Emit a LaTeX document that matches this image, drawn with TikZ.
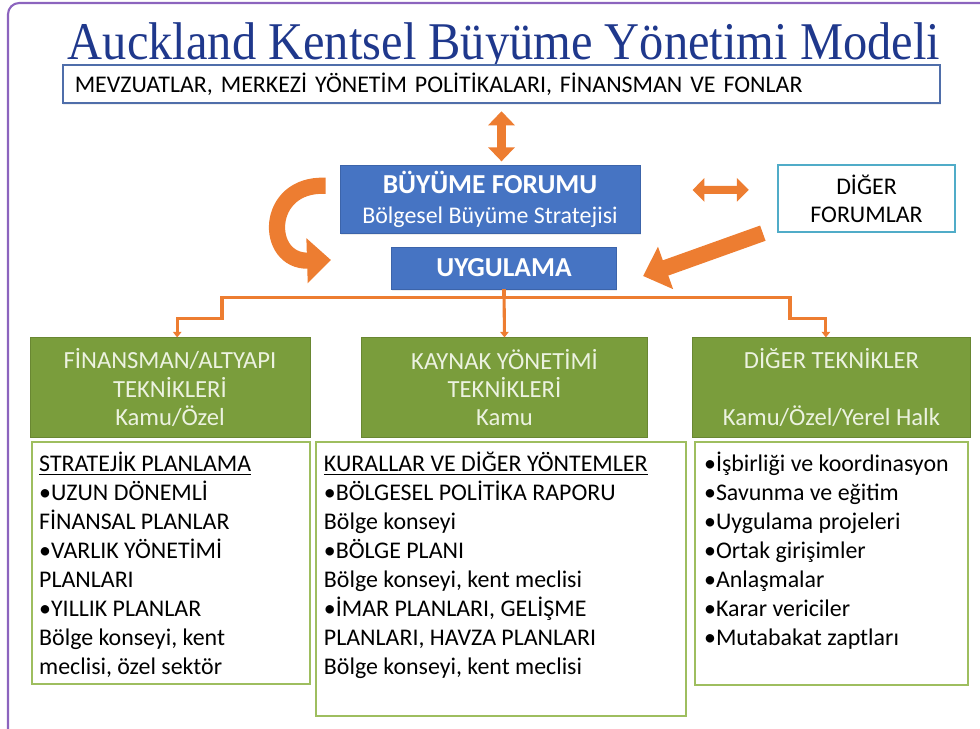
\documentclass[tikz,border=0pt]{standalone}
\usepackage{graphicx}
\usepackage{fontspec}
\setmainfont{Carlito}
\newfontfamily\titlefont{Liberation Serif}
\usetikzlibrary{arrows.meta,positioning,shadows}

\definecolor{titleblue}{RGB}{31,56,140}
\definecolor{frameviolet}{RGB}{140,100,190}
\definecolor{lawline}{RGB}{79,110,170}
\definecolor{forumblue}{RGB}{70,116,195}
\definecolor{forumline}{RGB}{60,100,170}
\definecolor{otherline}{RGB}{80,172,200}
\definecolor{techgreen}{RGB}{122,157,60}
\definecolor{techline}{RGB}{105,135,50}
\definecolor{techtext}{RGB}{236,242,224}
\definecolor{listline}{RGB}{158,190,95}
\definecolor{arroworange}{RGB}{237,125,49}

\tikzstyle{lawbox} = [rectangle, draw=lawline, line width=1.5pt, fill=white, minimum width=21.93cm, minimum height=0.95cm, inner xsep=0.3cm, text width=21.33cm, align=left, font=\fontsize{17}{20}\selectfont, drop shadow={opacity=0.12, shadow xshift=0.5pt, shadow yshift=-1.5pt}]
\tikzstyle{bluebox} = [rectangle, fill=forumblue, draw=forumline, line width=0.6pt, text=white, align=center, font=\fontsize{17}{21.3}\selectfont, drop shadow={opacity=0.15, shadow xshift=0.5pt, shadow yshift=-1.5pt}]
\tikzstyle{forumbox} = [rectangle, draw=otherline, line width=1.5pt, fill=white, align=center, minimum width=4.43cm, minimum height=1.68cm, font=\fontsize{17}{20}\selectfont]
\tikzstyle{techbox} = [rectangle, fill=techgreen, draw=techline, line width=0.6pt, text=techtext, align=center, minimum height=2.48cm, font=\fontsize{17.5}{20}\selectfont]
\tikzstyle{listbox} = [rectangle, draw=listline, line width=1.5pt, fill=white]
\tikzstyle{listtext} = [inner sep=0pt, align=left, font=\fontsize{17}{20.6}\selectfont]
\tikzstyle{updown} = [draw=arroworange, line width=7pt, {Triangle[width=18.5pt,length=10pt]}-{Triangle[width=18.5pt,length=10pt]}]
\tikzstyle{sideways} = [draw=arroworange, line width=5.7pt, {Triangle[width=16.4pt,length=8.5pt]}-{Triangle[width=16.4pt,length=8.5pt]}]
\tikzstyle{bigarrow} = [draw=arroworange, line width=11.5pt, -{Triangle[width=31pt,length=17pt]}]
\tikzstyle{feed} = [draw=arroworange, line width=2.2pt, -{Triangle[width=6pt,length=4pt]}]

\begin{document}
\begin{tikzpicture}[x=0.025cm, y=-0.025cm, node distance=1cm and 2cm]
    \useasboundingbox (0,0) rectangle (980,729);
    \draw[frameviolet, line width=1.5pt, rounded corners=8pt] (8,729) -- (8,3) -- (980,3);

    % top
    \node[inner sep=0pt, anchor=base, text=titleblue] (title) at (504,60)
        {\resizebox{21.8cm}{0.92cm}{\titlefont Auckland Kentsel Büyüme Yönetimi Modeli}};
    \node[lawbox] (laws) at (501.5,84) {MEVZUATLAR, MERKEZİ YÖNETİM POLİTİKALARI, FİNANSMAN VE FONLAR};

    % forums
    \node[bluebox, minimum width=7.5cm, minimum height=1.7cm] (forum) at (490,199)
        {\textbf{\fontsize{19.5}{21.3}\selectfont BÜYÜME FORUMU}\\Bölgesel Büyüme Stratejisi};
    \node[forumbox] (other) at (866.5,198.5) {DİĞER\\FORUMLAR};
    \node[bluebox, minimum width=5.63cm, minimum height=1.05cm] (uyg) at (504,268)
        {\textbf{\fontsize{19.5}{21.3}\selectfont UYGULAMA}};

    % techniques
    \node[techbox, minimum width=7cm] (fintech) at (170,387.5) {FİNANSMAN/ALTYAPI\\TEKNİKLERİ\\Kamu/Özel};
    \node[techbox, minimum width=7.13cm] (restech) at (504.5,387.5) {KAYNAK YÖNETİMİ\\TEKNİKLERİ\\Kamu};
    \node[techbox, minimum width=6.93cm] (othertech) at (831.5,387.5) {DİĞER TEKNİKLER\\[20pt]Kamu/Özel/Yerel Halk};

    \node[listbox, minimum width=6.95cm, minimum height=6.05cm] (finlist) at (171,563) {};
    \node[listbox, minimum width=9.25cm, minimum height=6.85cm] (reslist) at (501,579) {};
    \node[listbox, minimum width=6.83cm, minimum height=6.08cm] (otherlist) at (831.5,563.5) {};

    \node[listtext, below right=0.28cm and 0.2cm of finlist.north west] (fintext)
        {\underline{STRATEJİK PLANLAMA}\\•UZUN DÖNEMLİ\\FİNANSAL PLANLAR\\•VARLIK YÖNETİMİ\\PLANLARI\\•YILLIK PLANLAR\\Bölge konseyi, kent\\meclisi, özel sektör};
    \node[listtext, below right=0.28cm and 0.22cm of reslist.north west] (restext)
        {\underline{KURALLAR VE DİĞER YÖNTEMLER}\\•BÖLGESEL POLİTİKA RAPORU\\Bölge konseyi\\•BÖLGE PLANI\\Bölge konseyi, kent meclisi\\•İMAR PLANLARI, GELİŞME\\PLANLARI, HAVZA PLANLARI\\Bölge konseyi, kent meclisi};
    \node[listtext, below right=0.28cm and 0.25cm of otherlist.north west] (othertext)
        {•İşbirliği ve koordinasyon\\•Savunma ve eğitim\\•Uygulama projeleri\\•Ortak girişimler\\•Anlaşmalar\\•Karar vericiler\\•Mutabakat zaptları};

    % arrows
    \draw[updown, shorten <=0.18cm, shorten >=0.08cm] (laws.south) -- (laws.south |- forum.north);
    \draw[sideways, shorten <=1.3cm, shorten >=0.7cm] ([yshift=0.22cm]forum.east) -- ([yshift=0.22cm]other.west);
    \draw[bigarrow] ([xshift=-0.35cm,yshift=0.33cm]forum.west) .. controls (264,183) and (264,262) .. ([xshift=-1.5cm,yshift=0.2cm]uyg.west);
    \draw[bigarrow] ([xshift=-0.35cm,yshift=0.0cm]other.south west) -- ([xshift=0.65cm,yshift=-0.2cm]uyg.east);

    \draw[feed] (uyg.south) -- (restech.north);
    \draw[feed] (uyg.south) -- ++(0,8) -| ++(-282,21) -| ([xshift=0.18cm]fintech.north);
    \draw[feed] (uyg.south) -- ++(0,8) -| ++(286,21) -| ([xshift=-0.14cm]othertech.north);
\end{tikzpicture}
\end{document}
